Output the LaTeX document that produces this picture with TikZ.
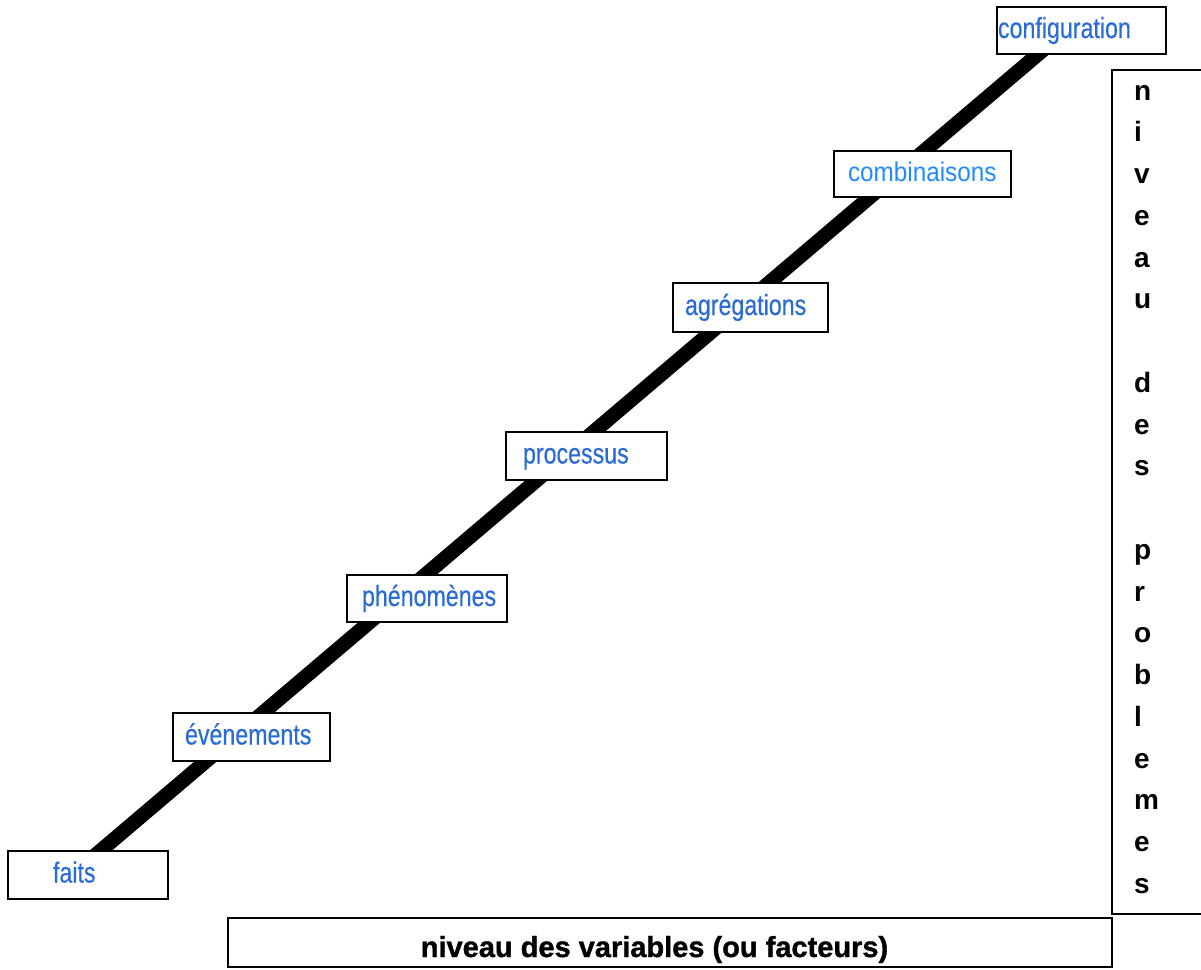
\documentclass[tikz,border=0pt]{standalone}
\usepackage{fontspec}
\setmainfont{Liberation Sans}
\newfontfamily\labfont[FakeStretch=0.8, FakeBold=0.4]{Liberation Sans}
\newfontfamily\combfont[FakeStretch=0.9]{Liberation Sans}
\newfontfamily\heavyfont[FakeBold=1.2]{Liberation Sans Bold}
\usetikzlibrary{calc}
\definecolor{labblue}{RGB}{42,108,214}
\definecolor{combblue}{RGB}{30,140,255}
\pgfdeclarelayer{background}
\pgfsetlayers{background,main}
\tikzset{
  stepbox/.style={draw=black, line width=2.8pt, fill=white, inner ysep=0pt,
    align=left, text height=21pt, text depth=6pt,
    font=\labfont\fontsize{29}{29}\selectfont, text=labblue},
  framebox/.style={draw=black, line width=2.8pt, fill=white},
  vletter/.style={anchor=base west, inner sep=0pt,
    font=\bfseries\fontsize{28}{28}\selectfont},
}
\begin{document}
\begin{tikzpicture}[x=1pt, y=-1pt]
\useasboundingbox (0,0) rectangle (1201,969);

% the seven steps of the staircase
\node[stepbox, minimum width=169pt, minimum height=47pt, inner xsep=1pt, text width=167pt]
  (config) at (1081.5,30.5) {configuration};
\node[stepbox, minimum width=177pt, minimum height=46pt, inner xsep=14pt, text width=149pt,
  font=\combfont\fontsize{27}{27}\selectfont, text=combblue]
  (combi) at (922.5,174) {combinaisons};
\node[stepbox, minimum width=155pt, minimum height=49pt, inner xsep=12pt, text width=131pt]
  (agreg) at (750.5,307.5) {agrégations};
\node[stepbox, minimum width=161pt, minimum height=48pt, inner xsep=17pt, text width=127pt]
  (proc) at (586.5,456) {processus};
\node[stepbox, minimum width=160pt, minimum height=47pt, inner xsep=15pt, text width=130pt]
  (phen) at (427,598.5) {phénomènes};
\node[stepbox, minimum width=157pt, minimum height=48pt, inner xsep=12pt, text width=133pt]
  (even) at (251.5,737) {événements};
\node[stepbox, minimum width=160pt, minimum height=48pt, inner xsep=45pt, text width=70pt]
  (faits) at (88,875) {faits};

% thick rising line behind the steps
\begin{pgfonlayer}{background}
  \draw[line width=14.5pt] ([xshift=-16pt]faits.center) -- ([xshift=-15.5pt]config.center);
\end{pgfonlayer}

% horizontal axis label
\node[framebox, minimum width=884pt, minimum height=49pt, inner sep=0pt]
  (haxis) at (670,942.5) {};
\node[anchor=base, inner sep=0pt, font=\heavyfont\fontsize{29}{29}\selectfont]
  (htext) at (654.5,957) {niveau des variables (ou facteurs)};

% vertical axis label, open on the right, one letter per row
\coordinate (vtop) at (1201,70);
\coordinate (vbot) at (1201,914);
\draw[line width=2.8pt] (vtop) -- (1112,70) -- (1112,914) -- (vbot);
\foreach \ch/\row in {n/0, i/1, v/2, e/3, a/4, u/5, d/7, e/8, s/9,
                      p/11, r/12, o/13, b/14, l/15, e/16, m/17, e/18, s/19}
  \node[vletter] (v\row) at (1134,100+41.75*\row) {\ch};
\end{tikzpicture}
\end{document}
